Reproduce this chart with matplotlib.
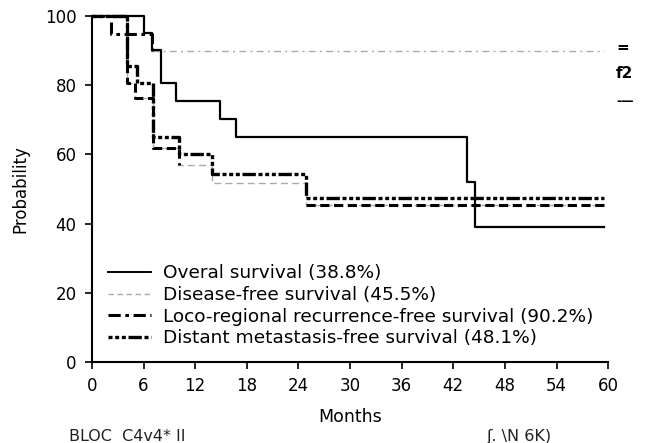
import matplotlib
matplotlib.use('Agg')
import matplotlib.pyplot as plt
from matplotlib.lines import Line2D

plt.rcParams['font.family'] = ['DejaVu Sans']

# Kaplan-Meier steps (months, probability %)
os_t = [0, 6.0, 7.0, 8.0, 9.8, 14.9, 16.8, 43.6, 44.5, 59.5]
os_p = [100, 95.1, 90.3, 80.6, 75.4, 70.3, 65.0, 52.1, 38.9, 38.9]

dfs_t = [0, 4.1, 5.0, 7.1, 10.1, 14.0, 24.9, 59.5]
dfs_p = [100, 80.6, 76.4, 61.8, 56.9, 51.8, 45.5, 45.5]

lrr_t = [0, 2.2, 7.0, 59.5]
lrr_p = [100, 94.7, 90.0, 90.0]

dm_t = [0, 4.1, 5.3, 7.1, 10.1, 14.0, 24.9, 59.5]
dm_p = [100, 85.5, 80.6, 65.1, 60.2, 54.4, 47.3, 47.3]

labels = ['Overal survival (38.8%)',
          'Disease-free survival (45.5%)',
          'Loco-regional recurrence-free survival (90.2%)',
          'Distant metastasis-free survival (48.1%)']

x_ticks = [0, 6, 12, 18, 24, 30, 36, 42, 48, 54, 60]
y_ticks = [0, 20, 40, 60, 80, 100]

dash_dot = (0, (4, 1.5, 1.2, 1.5))
dense_dot = (0, (1.2, 0.8, 1.2, 0.8, 1.2, 0.8, 4, 0.8))

fig = plt.figure(figsize=(6.47, 4.43), dpi=100)
ax = fig.add_axes([0.142, 0.183, 0.798, 0.781])

# disease-free: light grey in the middle, heavy black elsewhere
ax.step(dfs_t, dfs_p, where='post', color='#aaaaaa', lw=1.0, ls=(0, (5, 3)), clip_on=False)
ax.step(dfs_t[:5], dfs_p[:5], where='post', color='black', lw=2.2, ls=(0, (3, 1.5)), clip_on=False)
ax.step(dfs_t[6:], dfs_p[6:], where='post', color='black', lw=2.2, ls=(0, (3, 1.5)), clip_on=False)

# loco-regional: heavy at first, then light grey
ax.step(lrr_t[2:], lrr_p[2:], where='post', color='#aaaaaa', lw=1.0, ls=(0, (5, 3, 1.5, 3)), clip_on=False)
ax.step(lrr_t[:3], lrr_p[:3], where='post', color='black', lw=2.2, ls=dash_dot, clip_on=False)

ax.step(dm_t, dm_p, where='post', color='black', lw=2.4, ls=dense_dot, clip_on=False)
ax.step(os_t, os_p, where='post', color='black', lw=1.6, clip_on=False)

ax.set_xlim(0, 60)
ax.set_ylim(0, 100)
ax.set_xticks(x_ticks)
ax.set_yticks(y_ticks)
ax.tick_params(labelsize=12, length=5, width=1.2, direction='out', pad=6)
for s in ['top', 'right']:
    ax.spines[s].set_visible(False)
for s in ['left', 'bottom']:
    ax.spines[s].set_linewidth(1.5)
ax.set_xlabel('Months', fontsize=12.5, labelpad=9)
ax.set_ylabel('Probability', fontsize=12, labelpad=11)

handles = [Line2D([], [], color='black', lw=1.4),
           Line2D([], [], color='#aaaaaa', lw=1.0, ls=(0, (4, 2.5))),
           Line2D([], [], color='black', lw=2.2, ls=dash_dot),
           Line2D([], [], color='black', lw=2.4, ls=dense_dot)]
ax.legend(handles, labels, loc='upper left', bbox_to_anchor=(0.0, 0.33),
          frameon=False, fontsize=13.3, handlelength=2.3, handletextpad=0.65,
          labelspacing=0.2, borderaxespad=0.5)

# scan remnants at right edge and bottom
fig.text(0.952, 0.893, '=', fontsize=11, fontweight='bold', va='center')
fig.text(0.952, 0.835, 'f2', fontsize=11, fontweight='bold', va='center')
fig.text(0.952, 0.770, '-\u2014', fontsize=9, fontweight='bold', va='center')
fig.text(0.107, 0.015, 'BLOC  C4v4* II', fontsize=11.5, va='center', color='#222222')
fig.text(0.752, 0.015, '\u0283. \\N 6K)', fontsize=11.5, va='center', color='#222222')

fig.savefig('out.png', dpi=100)
